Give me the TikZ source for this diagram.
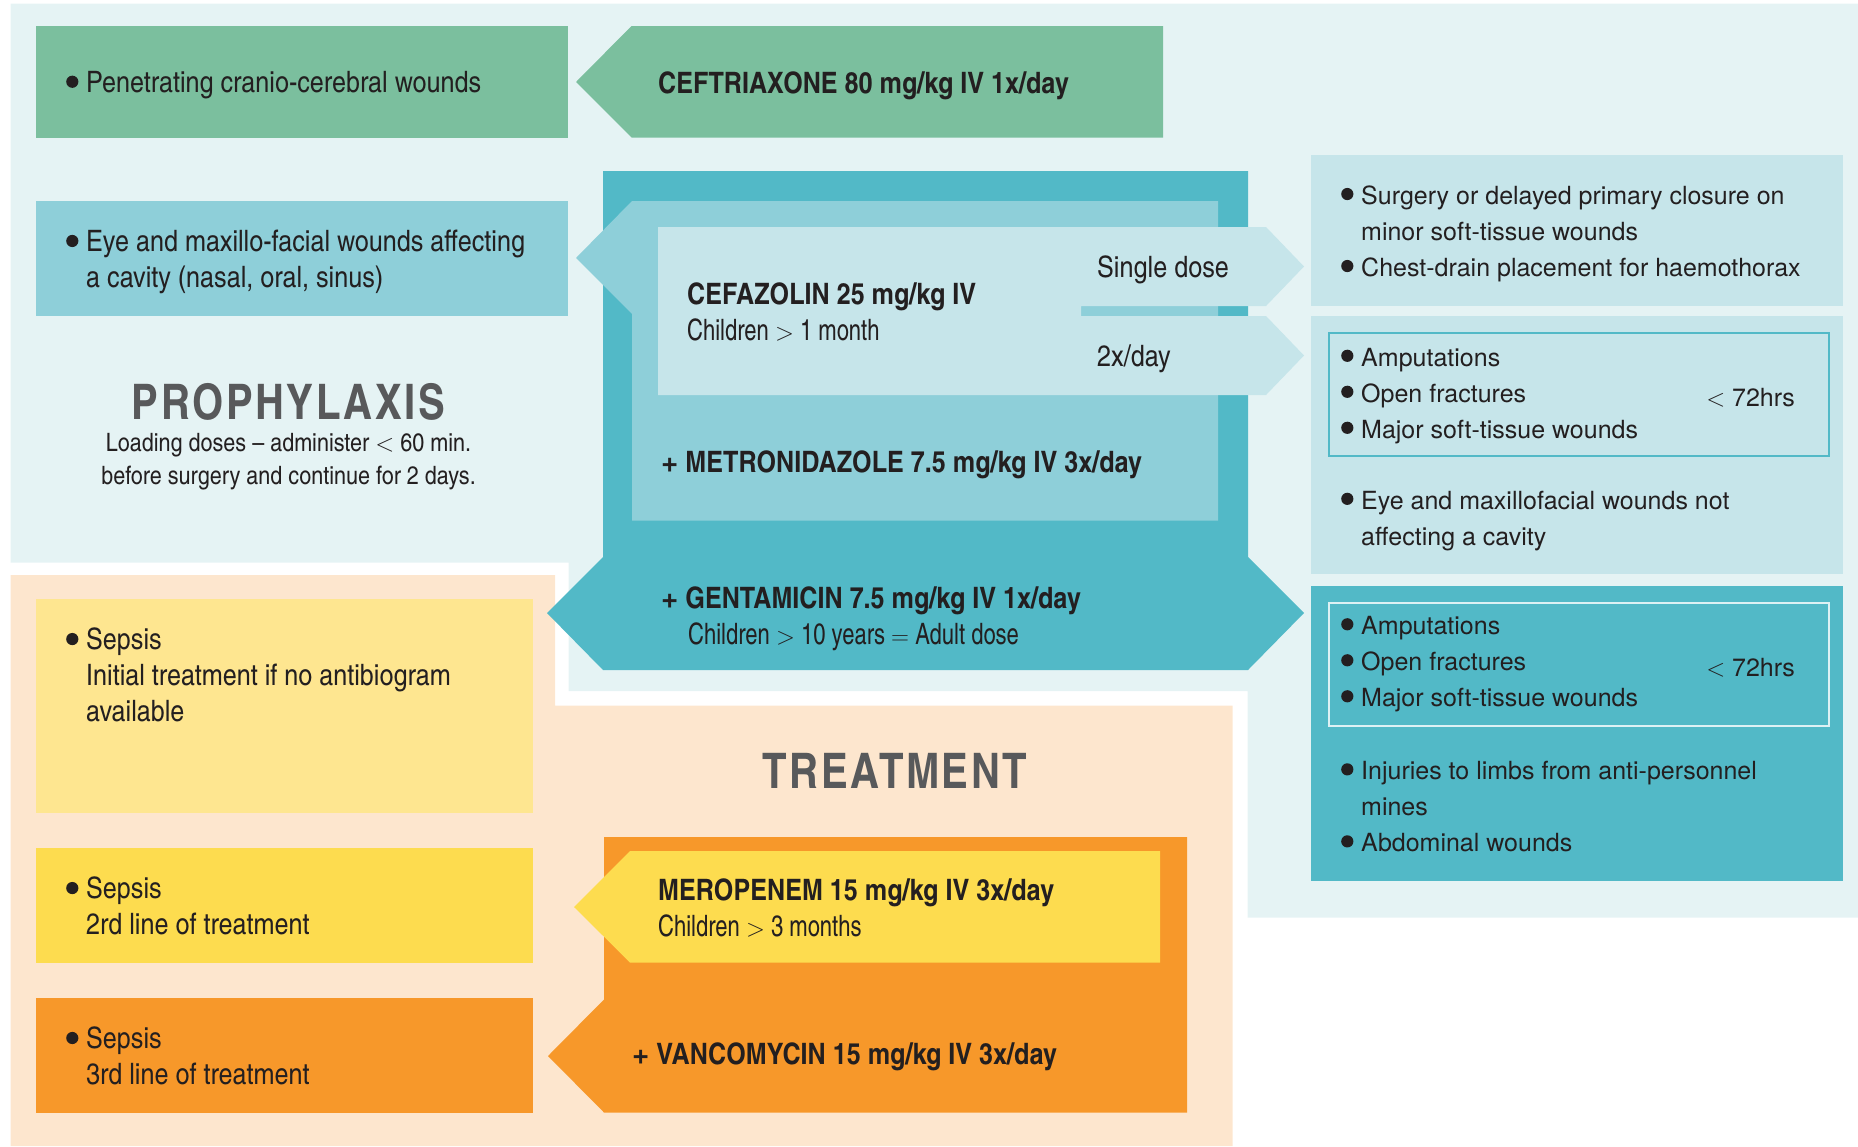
\documentclass[tikz,border=0pt]{standalone}
\usepackage{fontspec}
\setmainfont{texgyreheros}[Extension=.otf,UprightFont=*-regular,BoldFont=*-bold]
\newfontfamily\cnfont{texgyreheroscn}[Extension=.otf,UprightFont=*-regular,BoldFont=*-bold,FakeStretch=1.04]
\newfontfamily\cnlight{texgyreheroscn}[Extension=.otf,UprightFont=*-regular,BoldFont=*-regular,FakeStretch=0.91]
\newfontfamily\cntitle{texgyreheroscn}[Extension=.otf,UprightFont=*-bold,BoldFont=*-bold,LetterSpace=5]
\usepackage{tikz}
\usetikzlibrary{positioning}
\definecolor{bgblue} {HTML}{E5F3F4}
\definecolor{peach}  {HTML}{FDE6CE}
\definecolor{cgreen} {HTML}{7BBF9E}
\definecolor{cmid}   {HTML}{8ECFD9}
\definecolor{cpale}  {HTML}{C6E5EA}
\definecolor{cteal}  {HTML}{52B9C7}
\definecolor{cline}  {HTML}{DDF1F4}
\definecolor{cpaley} {HTML}{FEE690}
\definecolor{cyellow}{HTML}{FDDC4F}
\definecolor{corange}{HTML}{F7982A}
\definecolor{ink}    {HTML}{231F20}
\definecolor{tgray}  {HTML}{58595B}
% bullet, and the indent of a wrapped line
\newcommand{\bl}{\makebox[20pt][l]{\tikz[baseline=0pt]\fill[ink] (6pt,10.6pt) circle (6.1pt);}}
\newcommand{\ind}{\hspace*{20pt}}
\newcommand{\sub}[1]{{\cnlight\mdseries #1}}
\newcommand{\plus}{{\rmfamily\bfseries +}}
\tikzset{
  txt/.style={anchor=west,inner sep=0pt,align=left,text=ink,
              font=\cnfont\fontsize{29.5}{36}\selectfont},
  drug/.style={txt,font=\cnfont\bfseries\fontsize{29.5}{36}\selectfont},
  rtxt/.style={txt,font=\fontsize{25}{36}\selectfont},
  note/.style={inner sep=0pt,align=center,text=ink,
              font=\cnfont\fontsize{25.3}{33}\selectfont},
  title/.style={inner sep=0pt,text=tgray,font=\cntitle\fontsize{49}{50}\selectfont},
  frame/.style={draw=#1,line width=1.5pt,fill=none},
}

\begin{document}
\begin{tikzpicture}[x=1pt,y=-1pt]
  \useasboundingbox (0,0) rectangle (1858,1146);
  % backgrounds
  \fill[bgblue] (10.5,3.5) -- (1858,3.5) -- (1858,917.5) -- (1247.5,917.5)
    -- (1247.5,691) -- (568.5,691) -- (568.5,562.5) -- (10.5,562.5) -- cycle;
  \fill[peach] (10.5,575) -- (555,575) -- (555,705.5) -- (1232.5,705.5)
    -- (1232.5,1146) -- (10.5,1146) -- cycle;

  % Prophylaxis, left column
  \fill[cgreen] (36,26) rectangle (568,137.5);
  \fill[cmid] (36,201) rectangle (568,315.5);
  % Prophylaxis, drugs
  \fill[cgreen] (576,82) -- (631.5,26) -- (1163,26) -- (1163,137.5) -- (631.5,137.5) -- cycle;
  \fill[cteal] (603,171) -- (1248,171) -- (1248,557) -- (1304,613) -- (1248,670)
    -- (603,670) -- (547,613) -- (603,557) -- cycle;
  \fill[cmid] (632,201) -- (1218,201) -- (1218,520.5) -- (632,520.5) -- (632,314) -- (576,258) -- cycle;
  \fill[cpale] (658,227) -- (1266,227) -- (1304,266.5) -- (1266,306) -- (1081,306) -- (1081,316)
    -- (1266,316) -- (1304,355.5) -- (1266,395) -- (658,395) -- cycle;
  % Prophylaxis, right column
  \fill[cpale] (1311,155) rectangle (1843,305.5);
  \fill[cpale] (1311,315.5) rectangle (1843,574);
  \draw[frame=cteal] (1329,333) rectangle (1829,456);
  \fill[cteal] (1311,586) rectangle (1843,881);
  \draw[frame=cline] (1329,603) rectangle (1829,726);

  % Treatment
  \fill[cpaley] (36,598.5) rectangle (532.5,813);
  \fill[cyellow] (36,848) rectangle (532.5,962.5);
  \fill[corange] (36,998) rectangle (532.5,1112.5);
  \fill[corange] (604,837) -- (1187,837) -- (1187,1112.5) -- (604,1112.5) -- (548,1056) -- (604,999.5) -- cycle;
  \fill[cyellow] (574,907) -- (630,851) -- (1160,851) -- (1160,962.5) -- (630,962.5) -- cycle;

  % texts, left
  \node[txt] (PENETR) at (66,85) {\bl Penetrating cranio-cerebral wounds};
  \node[txt] (EYE_CAV) at (66,262) {\bl Eye and maxillo-facial wounds affecting\\\ind a cavity (nasal, oral, sinus)};
  \node[title] (PROPH) at (288.5,402) {PROPHYLAXIS};
  \node[note] (LOADING) at (288.5,462) {Loading doses \textendash{} administer $<$ 60 min.\\before surgery and continue for 2 days.};
  \node[txt] (SEPSIS_1) at (66,675) {\bl Sepsis\\\ind Initial treatment if no antibiogram\\\ind available};
  \node[txt] (SEPSIS_2) at (66,906) {\bl Sepsis\\\ind 2rd line of treatment};
  \node[txt] (SEPSIS_3) at (66,1056) {\bl Sepsis\\\ind 3rd line of treatment};
  \node[title] (TREAT) at (895,771) {TREATMENT};

  % texts, drugs
  \node[drug] (CEFTRIAXONE) at (658,86) {CEFTRIAXONE 80 mg/kg IV 1x/day};
  \node[drug] (CEFAZOLIN) at (687,312) {CEFAZOLIN 25 mg/kg IV\\\sub{Children $>$ 1 month}};
  \node[txt] (SINGLE) at (1097,269.5) {Single dose};
  \node[txt] (TWICE) at (1097,359) {2x/day};
  \node[drug] (METRO) at (661,465) {\plus{} METRONIDAZOLE 7.5 mg/kg IV 3x/day};
  \node[drug] (GENTA) at (661,618.5) {\plus{} GENTAMICIN 7.5 mg/kg IV 1x/day\\\hspace*{27pt}\sub{Children $>$ 10 years $=$ Adult dose}};
  \node[drug] (MEROPENEM) at (658,908) {MEROPENEM 15 mg/kg IV 3x/day\\\sub{Children $>$ 3 months}};
  \node[drug] (VANCO) at (632,1056.5) {\plus{} VANCOMYCIN 15 mg/kg IV 3x/day};

  % texts, right
  \node[rtxt] (MINOR) at (1341,234) {\bl Surgery or delayed primary closure on\\\ind minor soft-tissue wounds\\\bl Chest-drain placement for haemothorax};
  \node[rtxt] (LIST_A) at (1341,396) {\bl Amputations\\\bl Open fractures\\\bl Major soft-tissue wounds};
  \node[rtxt,anchor=east] (HRS_A) at (1795,398) {$<$ 72hrs};
  \node[rtxt] (EYE_NOT) at (1341,521) {\bl Eye and maxillofacial wounds not\\\ind affecting a cavity};
  \node[rtxt] (LIST_B) at (1341,664.5) {\bl Amputations\\\bl Open fractures\\\bl Major soft-tissue wounds};
  \node[rtxt,anchor=east] (HRS_B) at (1795,668) {$<$ 72hrs};
  \node[rtxt] (MINES) at (1341,807) {\bl Injuries to limbs from anti-personnel\\\ind mines\\\bl Abdominal wounds};
\end{tikzpicture}
\end{document}
